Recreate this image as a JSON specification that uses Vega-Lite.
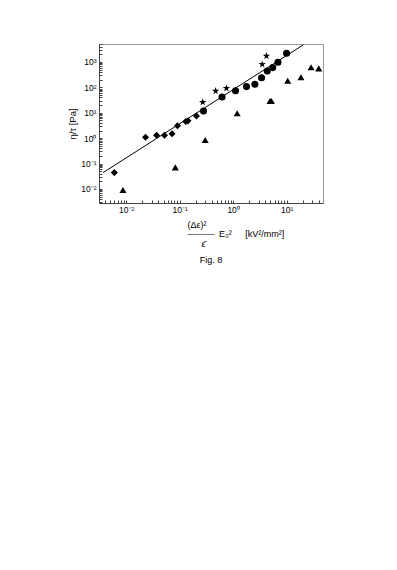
{
  "$schema": "https://vega.github.io/schema/vega-lite/v6.json",
  "width": 224,
  "height": 159,
  "autosize": {"type": "none"},
  "padding": {"left": 99, "top": 44, "right": 74, "bottom": 367},
  "background": "white",
  "config": {
    "view": {"stroke": "#999", "strokeWidth": 1},
    "font": "Liberation Sans",
    "axis": {
      "grid": false,
      "domainColor": "#444",
      "tickColor": "#444",
      "tickSize": -3,
      "labelFontSize": 8.5,
      "labelColor": "black",
      "labelFont": "Liberation Sans",
      "titleFont": "Liberation Sans",
      "titleFontWeight": "normal",
      "titleColor": "black"
    }
  },
  "title": {
    "text": "Fig. 8",
    "orient": "bottom",
    "fontSize": 9,
    "fontWeight": "normal",
    "font": "Liberation Sans",
    "color": "black",
    "offset": 8
  },
  "datasets": {
    "pts": [
      {"series": "diamond", "x": 0.006, "y": 0.044},
      {"series": "diamond", "x": 0.023, "y": 1.09},
      {"series": "diamond", "x": 0.037, "y": 1.3},
      {"series": "diamond", "x": 0.052, "y": 1.3},
      {"series": "diamond", "x": 0.072, "y": 1.5},
      {"series": "diamond", "x": 0.091, "y": 3.1},
      {"series": "diamond", "x": 0.13, "y": 4.5},
      {"series": "diamond", "x": 0.143, "y": 4.8},
      {"series": "diamond", "x": 0.206, "y": 7.5},
      {"series": "circle", "x": 0.28, "y": 11.7},
      {"series": "circle", "x": 0.62, "y": 42},
      {"series": "circle", "x": 1.11, "y": 74},
      {"series": "circle", "x": 1.78, "y": 107},
      {"series": "circle", "x": 2.55, "y": 132},
      {"series": "circle", "x": 3.4, "y": 240},
      {"series": "circle", "x": 4.35, "y": 440},
      {"series": "circle", "x": 5.5, "y": 600},
      {"series": "circle", "x": 6.9, "y": 970},
      {"series": "circle", "x": 10, "y": 2200},
      {"series": "star", "x": 0.27, "y": 26},
      {"series": "star", "x": 0.47, "y": 72},
      {"series": "star", "x": 0.75, "y": 92},
      {"series": "star", "x": 3.5, "y": 810},
      {"series": "star", "x": 4.2, "y": 1730},
      {"series": "triangle", "x": 0.0087, "y": 0.0091},
      {"series": "triangle", "x": 0.083, "y": 0.071},
      {"series": "triangle", "x": 0.3, "y": 0.85},
      {"series": "triangle", "x": 1.19, "y": 9.6},
      {"series": "triangle", "x": 4.9, "y": 29},
      {"series": "triangle", "x": 5.2, "y": 29},
      {"series": "triangle", "x": 10.5, "y": 183},
      {"series": "triangle", "x": 18.6, "y": 250},
      {"series": "triangle", "x": 28.7, "y": 620},
      {"series": "triangle", "x": 40, "y": 560}
    ],
    "fit": [
      {"x": 0.0037, "y": 0.044},
      {"x": 20.5, "y": 4700}
    ]
  },
  "layer": [
    {
      "data": {"name": "fit"},
      "mark": {"type": "line", "color": "black", "strokeWidth": 1},
      "encoding": {
        "x": {"field": "x", "type": "quantitative", "scale": {"type": "log", "domain": [0.0031, 48], "nice": false}},
        "y": {"field": "y", "type": "quantitative", "scale": {"type": "log", "domain": [0.0028, 5100], "nice": false}}
      }
    },
    {
      "data": {"name": "pts"},
      "mark": {"type": "point", "filled": true, "color": "black", "opacity": 1, "size": 50},
      "encoding": {
        "x": {
          "field": "x",
          "type": "quantitative",
          "scale": {"type": "log", "domain": [0.0031, 48], "nice": false},
          "axis": {
            "values": [0.004, 0.005, 0.006, 0.007, 0.008, 0.009, 0.01, 0.02, 0.03, 0.04, 0.05, 0.06, 0.07, 0.08, 0.09, 0.1, 0.2, 0.3, 0.4, 0.5, 0.6, 0.7, 0.8, 0.9, 1, 2, 3, 4, 5, 6, 7, 8, 9, 10, 20, 30, 40],
            "labelExpr": "datum.value == 0.01 ? '10⁻²' : datum.value == 0.1 ? '10⁻¹' : datum.value == 1 ? '10⁰' : datum.value == 10 ? '10¹' : ''",
            "labelPadding": 5,
            "labelOverlap": false,
            "title": ["(Δε)²", "———\u2002E₀²\u2003\u2002[kV²/mm²]", "\u2800\u2800ε̄"],
            "titleFontSize": 9,
            "titleAlign": "left",
            "titleAnchor": "start",
            "titleX": 88,
            "titleY": 17,
            "titleBaseline": "top",
            "titleLineHeight": 9.5
          }
        },
        "y": {
          "field": "y",
          "type": "quantitative",
          "scale": {"type": "log", "domain": [0.0028, 5100], "nice": false},
          "axis": {
            "values": [0.003, 0.004, 0.005, 0.006, 0.007, 0.008, 0.009, 0.01, 0.02, 0.03, 0.04, 0.05, 0.06, 0.07, 0.08, 0.09, 0.1, 0.2, 0.3, 0.4, 0.5, 0.6, 0.7, 0.8, 0.9, 1, 2, 3, 4, 5, 6, 7, 8, 9, 10, 20, 30, 40, 50, 60, 70, 80, 90, 100, 200, 300, 400, 500, 600, 700, 800, 900, 1000, 2000, 3000, 4000, 5000],
            "labelExpr": "datum.value == 0.01 ? '10⁻²' : datum.value == 0.1 ? '10⁻¹' : datum.value == 1 ? '10⁰' : datum.value == 10 ? '10¹' : datum.value == 100 ? '10²' : datum.value == 1000 ? '10³' : ''",
            "labelPadding": 6,
            "labelOverlap": false,
            "title": "η/τ [Pa]",
            "titleFontSize": 9.5,
            "titlePadding": 3
          }
        },
        "shape": {
          "field": "series",
          "type": "nominal",
          "scale": {
            "domain": ["diamond", "circle", "star", "triangle"],
            "range": ["diamond", "circle", "M0,-1.1L0.25,-0.34L1.05,-0.34L0.4,0.13L0.65,0.89L0,0.42L-0.65,0.89L-0.4,0.13L-1.05,-0.34L-0.25,-0.34Z", "triangle-up"]
          },
          "legend": null
        }
      }
    }
  ]
}
